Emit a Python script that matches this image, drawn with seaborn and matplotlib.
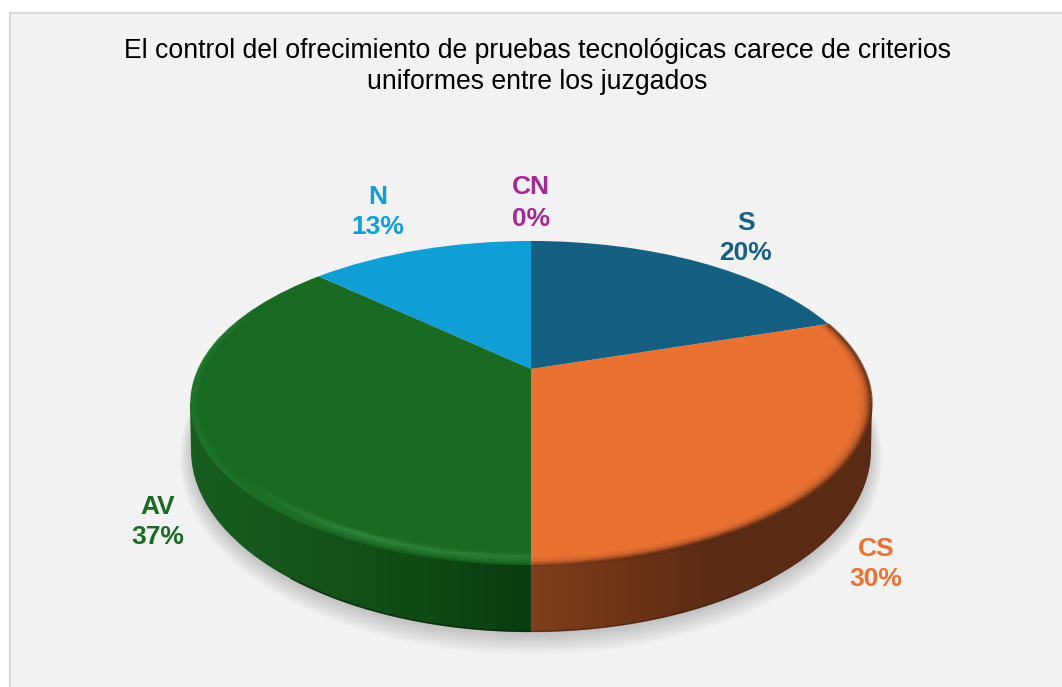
import numpy as np
import matplotlib
matplotlib.use("Agg")
import matplotlib.pyplot as plt
import seaborn as sns
from matplotlib.collections import LineCollection
from matplotlib.colors import LinearSegmentedColormap, to_rgb
from matplotlib.patches import Ellipse, Polygon, Rectangle
from matplotlib.transforms import Transform

# Data
categories = ["S", "CS", "AV", "N", "CN"]
percentages = [20, 30, 37, 13, 0]
slice_colors = ["#156082", "#E97132", "#196B24", "#0F9ED5", "#A02B93"]
title_lines = ["El control del ofrecimiento de pruebas tecnológicas carece de criterios",
               "uniformes entre los juzgados"]

W, H = 1062, 687
sns.set_theme(style="white")
plt.rcParams["font.family"] = ["Liberation Sans", "DejaVu Sans"]

fig = plt.figure(figsize=(W / 100, H / 100), dpi=100, facecolor="white")
ax = fig.add_axes([0, 0, 1, 1])

CX, CY, BX, AY, K = 531.0, 369.0, 333.0, 154.9, 0.21


def project(u, v):
    d = 1 + K * v
    return CX + BX * u / d, CY - AY * v / d


class Tilt(Transform):
    input_dims = output_dims = 2
    has_inverse = False

    def transform_non_affine(self, values):
        values = np.asarray(values, dtype=float)
        x, y = project(values[:, 0], values[:, 1])
        return np.column_stack([x, y])


palette = sns.color_palette(slice_colors)
wedges, _ = ax.pie(percentages, colors=palette, startangle=90, counterclock=False,
                   wedgeprops=dict(linewidth=0, zorder=5))
ax.set_aspect("auto")
tilt = Tilt()
for w in wedges:
    w.set_transform(tilt + ax.transData)
    w.set_clip_on(False)
ax.set_xlim(0, W)
ax.set_ylim(H, 0)
ax.axis("off")

# panel
ax.add_patch(Rectangle((10, 13), W + 20, H + 20, facecolor="#F2F2F2",
                       edgecolor="#D9D9D9", linewidth=1.6, zorder=0))

# soft shadow under the disc
for i in range(15, 0, -1):
    ax.add_patch(Ellipse((531, 452 + i * 0.45), 2 * (339 + i * 0.85), 2 * (182 + i * 0.95),
                         facecolor="black", edgecolor="none", alpha=0.012, zorder=1))

# side wall
t = np.linspace(np.pi, 0, 240)
rx, ry, ey = 340.0, 182.0, 450.0
wall = np.column_stack([CX + rx * np.cos(t), ey + ry * np.sin(t)])
wall = np.vstack([[190, 403], wall, [872, 403]])

boundary = np.deg2rad(wedges[1].theta1)
split_x = project(np.cos(boundary), np.sin(boundary))[0]

green_wall = LinearSegmentedColormap.from_list(
    "g", [(0, "#185E1F"), (0.33, "#15541B"), (0.7, "#104A16"), (1, "#0C3B11")])
brown_wall = LinearSegmentedColormap.from_list(
    "b", [(0, "#803F1C"), (0.28, "#6D3417"), (0.52, "#5B2B14"), (1, "#5A2A14")])
for cmap, x0, x1 in [(green_wall, 185, split_x), (brown_wall, split_x, 877)]:
    im = ax.imshow(np.linspace(0, 1, 256)[None, :], cmap=cmap, aspect="auto",
                   extent=(x0, x1, 640, 395), zorder=2)
    im.set_clip_path(Polygon(wall, closed=True, transform=ax.transData))
ax.set_xlim(0, W)
ax.set_ylim(H, 0)

# dark lip along the lower edge of the wall
tt = np.linspace(np.pi * 0.75, np.pi * 0.25, 200)
lx, ly = CX + (rx - 0.4) * np.cos(tt), ey + (ry - 0.6) * np.sin(tt)
pts = np.column_stack([lx, ly])
segs = np.stack([pts[:-1], pts[1:]], axis=1)
lip = [(0.02, 0.13, 0.04, 0.6) if x < split_x else (0.22, 0.10, 0.04, 0.45)
       for x in (lx[:-1] + lx[1:]) / 2]
ax.add_collection(LineCollection(segs, colors=lip, linewidths=1.2, zorder=3))


def arc_layer(theta0, theta1, radius, color, alpha_fn, lw=1.6):
    th = np.deg2rad(np.linspace(theta0, theta1, 260))
    x, y = project(radius * np.cos(th), radius * np.sin(th))
    p = np.column_stack([x, y])
    s = np.stack([p[:-1], p[1:]], axis=1)
    mid = np.rad2deg((th[:-1] + th[1:]) / 2)
    rgb = to_rgb(color)
    c = [(*rgb, float(np.clip(alpha_fn(a), 0, 1))) for a in mid]
    ax.add_collection(LineCollection(s, colors=c, linewidths=lw, capstyle="butt", zorder=6))


# bevel on the green face (angles counted anticlockwise from the right)
av_end = 270.0
for r, s in [(0.952, 0.06), (0.958, 0.16), (0.964, 0.28), (0.970, 0.26), (0.976, 0.18), (0.982, 0.1), (0.988, 0.06)]:
    arc_layer(215, av_end, r, "#5DB26B",
              lambda a, s=s: s * np.clip((a - 215) / 30, 0, 1) * (0.55 + 0.45 * np.clip((270 - a) / 30, 0, 1)))
for r, s in [(0.983, 0.12), (0.988, 0.2), (0.993, 0.24), (0.998, 0.24)]:
    arc_layer(150, 240, r, "#2F8F3D",
              lambda a, s=s: s * np.clip((a - 150) / 18, 0, 1) * np.clip((240 - a) / 25, 0, 1))
# darker seam between the green face and the wall
for r, s in [(0.993, 0.08), (0.998, 0.18)]:
    arc_layer(235, av_end, r, "#0C3B11", lambda a, s=s: s * np.clip((a - 235) / 25, 0, 1))

# bevel on the orange face
for r, s in [(0.968, 0.05), (0.975, 0.14), (0.982, 0.28), (0.988, 0.46), (0.993, 0.66), (0.997, 0.82), (1.0, 0.9)]:
    arc_layer(270, 378, r, "#5A2A14",
              lambda a, s=s: s * (0.3 + 0.7 * np.clip((a - 270) / 25, 0, 1)) * (0.55 + 0.45 * np.clip((378 - a) / 45, 0, 1)))

# texts
for line, y in zip(title_lines, [51, 82]):
    ax.text(537, y, line, ha="center", va="center", fontsize=19.15, color="black", zorder=8)

label_xy = {"S": (746, 238), "CS": (876, 564), "AV": (158, 522), "N": (378, 212), "CN": (531, 203)}
for name, pct, col in zip(categories, percentages, palette):
    x, y = label_xy[name]
    ax.text(x, y - 15.5, name, ha="center", va="center", fontsize=19, fontweight="bold", color=col, zorder=8)
    ax.text(x, y + 15.5, f"{pct}%", ha="center", va="center", fontsize=19, fontweight="bold", color=col, zorder=8)

fig.savefig("out.png", dpi=100)
